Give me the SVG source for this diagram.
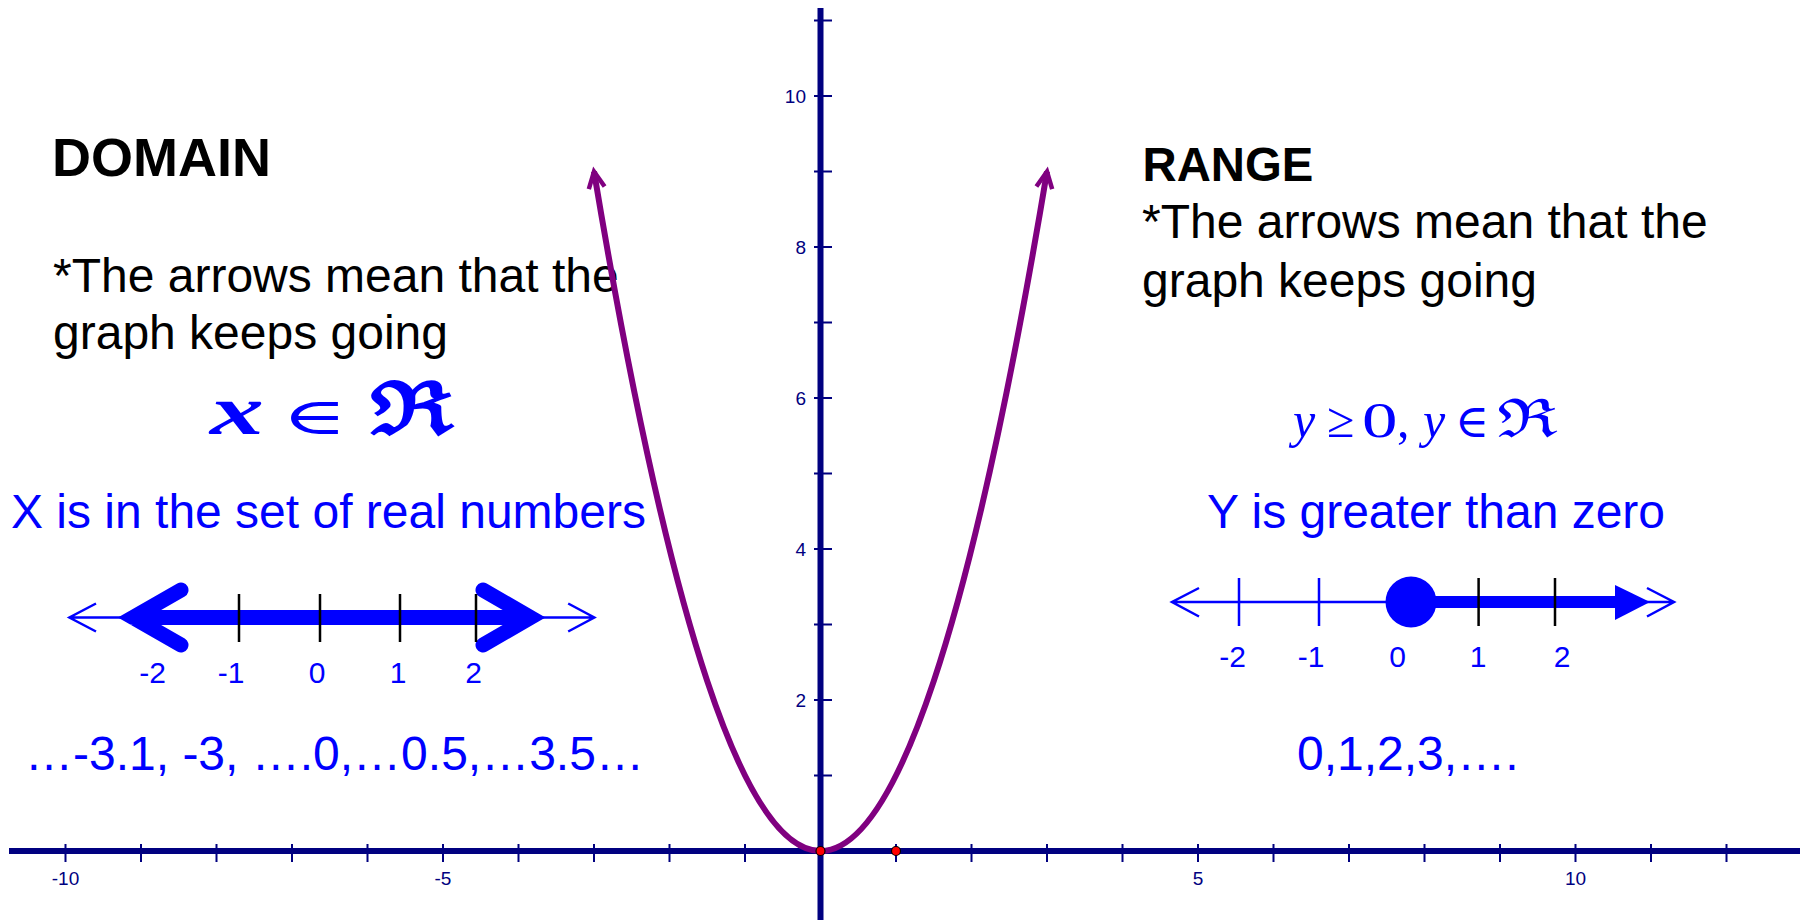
<svg xmlns="http://www.w3.org/2000/svg" width="1804" height="920" viewBox="0 0 1804 920">
<style>
.axis{stroke:#000080;stroke-width:6;fill:none}
.tick{stroke:#000080;stroke-width:2;fill:none}
.axlbl{font-family:"Liberation Sans",Arial,sans-serif;font-size:19px;fill:#000080}
.head{font-family:"Liberation Sans",Arial,sans-serif;font-weight:bold;fill:#000}
.txt{font-family:"Liberation Sans",Arial,sans-serif;font-size:48px;fill:#000}
.btxt{font-family:"Liberation Sans",Arial,sans-serif;font-size:48px;fill:#0000FF}
.thin{stroke:#0000FF;stroke-width:2.5;fill:none}
.thick{stroke:#0000FF;stroke-width:15;fill:none;stroke-linecap:round;stroke-linejoin:miter}
.blk{stroke:#000;stroke-width:2.5}
.nlbl{font-family:"Liberation Sans",Arial,sans-serif;font-size:30px;fill:#0000FF;text-anchor:middle}
.serif{font-family:"Liberation Serif","Times New Roman",serif;fill:#0000FF}
.dv{font-family:"DejaVu Serif",serif;fill:#0000FF}
.curve{stroke:#800080;stroke-width:6;fill:none}
.pt{fill:#FF0000;stroke:#000;stroke-width:1.2}
</style>
<defs>
<marker id="pa" viewBox="-24 -14 28 28" refX="0" refY="0" markerWidth="28" markerHeight="28" markerUnits="userSpaceOnUse" orient="auto-start-reverse" overflow="visible">
<path d="M-16.5,-8 L0,0 L-16.5,8" fill="none" stroke="#800080" stroke-width="4.5" stroke-linejoin="miter"/>
</marker>
</defs>

<g id="axes">
<line class="axis" x1="9" y1="851" x2="1800" y2="851"/>
<line class="axis" x1="820.5" y1="8" x2="820.5" y2="920"/>
<g id="xticks">
<path class="tick" d="M65.5,844V862M141,844V862M216.5,844V862M292,844V862M367.5,844V862M443,844V862M518.5,844V862M594,844V862M669.5,844V862M745,844V862M896,844V862M971.5,844V862M1047,844V862M1122.5,844V862M1198,844V862M1273.5,844V862M1349,844V862M1424.5,844V862M1500,844V862M1575.5,844V862M1651,844V862M1726.5,844V862"/>
</g>
<g id="yticks">
<path class="tick" d="M814,775.5H832M814,700H832M814,624.5H832M814,549H832M814,473.5H832M814,398H832M814,322.5H832M814,247H832M814,171.5H832M814,96H832M814,20.5H832"/>
</g>
<g id="xlabels" class="axlbl" text-anchor="middle">
<text x="65.5" y="885">-10</text>
<text x="443" y="885">-5</text>
<text x="1198" y="885">5</text>
<text x="1575.5" y="885">10</text>
</g>
<g id="ylabels" class="axlbl" text-anchor="end">
<text x="806" y="103">10</text>
<text x="806" y="254">8</text>
<text x="806" y="405">6</text>
<text x="806" y="556">4</text>
<text x="806" y="707">2</text>
</g>
</g>

<g id="domain">
<text class="head" x="52" y="176" font-size="54">DOMAIN</text>
<text class="txt" x="53" y="292">*The arrows mean that the</text>
<text class="txt" x="53" y="349">graph keeps going</text>
<g id="domain-formula">
<text class="serif" font-style="italic" font-weight="bold" font-size="70" transform="translate(210,434) scale(1.54,1)">x</text>
<text class="dv" font-size="51" transform="translate(282,434) scale(1.74,1)">∈</text>
<text class="dv" font-size="73" font-weight="bold" transform="translate(370,434) scale(1.34,1)">ℜ</text>
</g>
<text class="btxt" x="11" y="528">X is in the set of real numbers</text>
<g id="domain-line">
<path class="thin" d="M69.4,617.5H594.3M96,603.5L69.4,617.5L96,631.5M568.2,603.5L594.3,617.5L568.2,631.5"/>
<path class="thick" d="M133,617.5H530.5M181,590L133,617.5L181,645M483,590L530.5,617.5L483,645"/>
<path class="blk" d="M239,594V642M320,594V642M400,594V642M476,594V642"/>
<text class="nlbl" x="152.7" y="683">-2</text>
<text class="nlbl" x="231" y="683">-1</text>
<text class="nlbl" x="317" y="683">0</text>
<text class="nlbl" x="398" y="683">1</text>
<text class="nlbl" x="473.5" y="683">2</text>
</g>
<text class="btxt" x="25" y="770" font-size="47.5">…-3.1, -3, ….0,…0.5,…3.5…</text>
</g>

<g id="range">
<text class="head" x="1142.5" y="181" font-size="47.3">RANGE</text>
<text class="txt" x="1142" y="238">*The arrows mean that the</text>
<text class="txt" x="1142" y="297">graph keeps going</text>
<g id="range-formula">
<text class="serif" font-style="italic" font-size="50" x="1293" y="437">y</text>
<text class="serif" font-size="50" x="1327" y="437">≥</text>
<text class="serif" font-size="50" transform="translate(1362,437) scale(1.42,1)">0</text>
<text class="serif" font-size="50" x="1397" y="437">,</text>
<text class="serif" font-style="italic" font-size="50" x="1423" y="437">y</text>
<text class="dv" font-size="46" x="1455" y="437">∈</text>
<text class="dv" font-size="53" transform="translate(1497,437) scale(1.35,1)">ℜ</text>
</g>
<text class="btxt" x="1207" y="528">Y is greater than zero</text>
<g id="range-line">
<path class="thin" d="M1172,602H1674M1199,588L1172,602L1199,616.5M1647,588L1674,602L1647,616.5"/>
<path class="thin" d="M1239,578V626M1319,578V626"/>
<line x1="1411" y1="602" x2="1620" y2="602" stroke="#0000FF" stroke-width="12"/>
<path d="M1615,585L1650,602L1615,620Z" fill="#0000FF"/>
<circle cx="1411" cy="602" r="25.5" fill="#0000FF"/>
<path class="blk" d="M1478.6,578V626M1555,578V626"/>
<text class="nlbl" x="1232.7" y="667">-2</text>
<text class="nlbl" x="1311" y="667">-1</text>
<text class="nlbl" x="1397.5" y="667">0</text>
<text class="nlbl" x="1478" y="667">1</text>
<text class="nlbl" x="1562" y="667">2</text>
</g>
<text class="btxt" x="1297" y="770" font-size="47">0,1,2,3,….</text>
</g>

<g id="graph">
<path class="curve" d="M594,171.5 Q820.5,1530.5 1047,171.5" marker-start="url(#pa)" marker-end="url(#pa)"/>
<circle class="pt" cx="820.5" cy="851" r="4.5"/>
<circle class="pt" cx="896" cy="851" r="4.5"/>
</g>
</svg>
